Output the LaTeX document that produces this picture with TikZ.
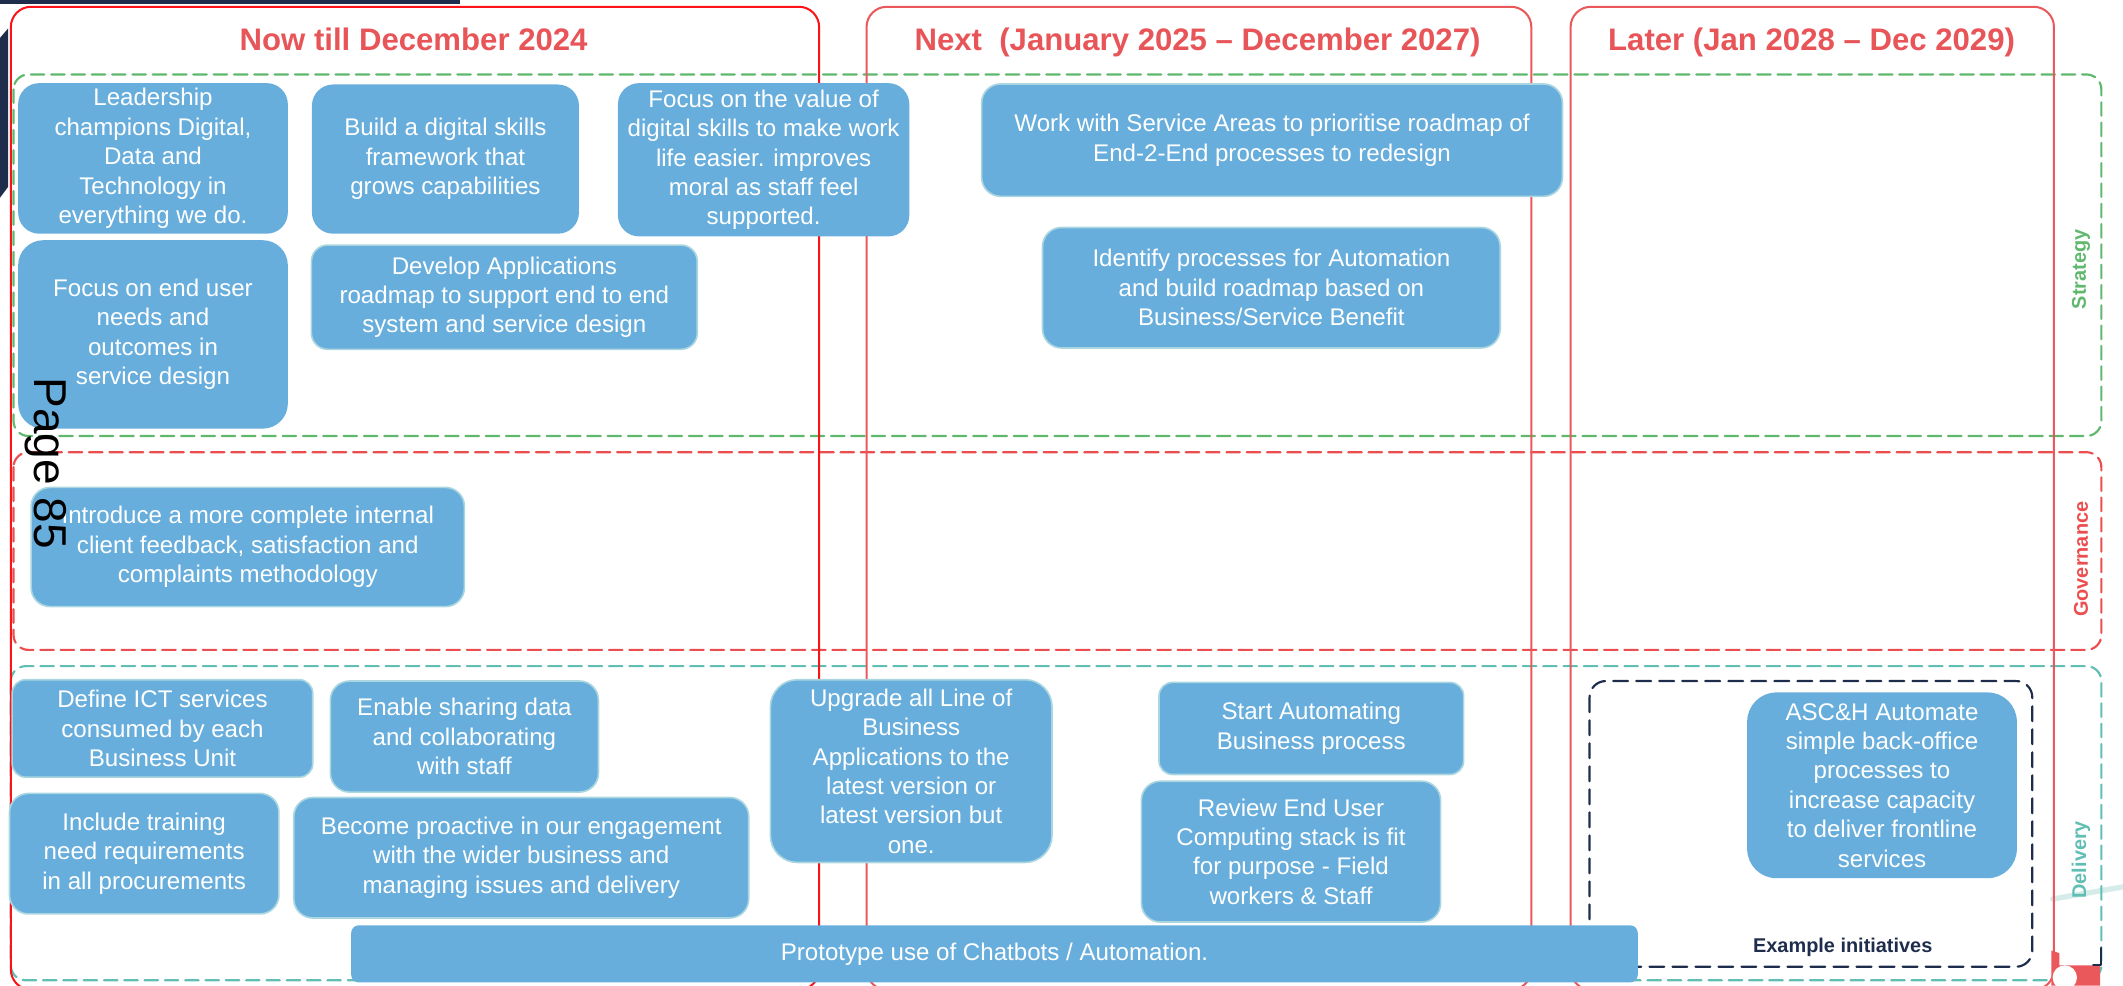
\documentclass[tikz,border=0pt]{standalone}
\usepackage{fontspec}
\setmainfont{Liberation Sans}
\definecolor{boxblue}{RGB}{104,174,220}
\definecolor{boxedge}{RGB}{170,214,224}
\definecolor{headred}{RGB}{232,85,88}
\definecolor{nowred}{RGB}{250,20,25}
\definecolor{colred}{RGB}{234,88,92}
\definecolor{stratgreen}{RGB}{96,184,110}
\definecolor{govred}{RGB}{236,78,80}
\definecolor{delteal}{RGB}{96,190,178}
\definecolor{navy}{RGB}{31,45,77}
\definecolor{paleteal}{RGB}{214,236,234}

\begin{document}
\begin{tikzpicture}[line cap=round,line join=round,x=1pt,y=-1pt,
	item/.style={draw=boxedge,line width=1.2pt,fill=boxblue,rounded corners=14pt,text=white,align=center,inner sep=0pt,font=\fontsize{17.8}{21.7}\selectfont},
	head/.style={text=headred,anchor=base,font=\fontsize{23}{27}\selectfont\bfseries},
	band/.style={dash pattern=on 10pt off 5pt,line width=1.6pt,rounded corners=11pt},
	side/.style={rotate=90,font=\fontsize{14.7}{17}\selectfont\bfseries},
	colframe/.style={line width=1.5pt,rounded corners=15pt}]
				\useasboundingbox (0,0) rectangle (1568,728);
				\clip (0,0) rectangle (1568,728);
				\fill [navy] (0,0) rectangle (340,3);
				\fill [navy] (0,28) -- (6,21) -- (6,138) -- (0,146) -- cycle;
				\draw [paleteal,line width=4pt] (1516,664) -- (1568,655);
				\draw [band,stratgreen] (10,55) rectangle (1552,322);
				\draw [band,govred] (10,334) rectangle (1552,480);
				\draw [band,delteal] (8,492) rectangle (1552,724);
				\draw [colframe,nowred] (8,5) rectangle (605,731);
				\draw [colframe,colred] (640,5) rectangle (1131,731);
				\draw [colframe,colred] (1160,5) rectangle (1517,731);
				\fill [colred] (1515,702) -- (1521,704) -- (1521,713) -- (1551,713) -- (1551,728) -- (1515,728) -- cycle;
				\fill [white] (1525,722) circle (9);
				\draw [navy,line width=1.5pt] (1552,700) -- (1552,713) -- (1546,713);
				\node [head] (nowhead) at (305.5,37) {Now till December 2024};
				\node [head] (nexthead) at (884.5,37) {Next\ \ (January 2025 -- December 2027)};
				\node [head] (laterhead) at (1338,37) {Later (Jan 2028 -- Dec 2029)};
				\node [side,stratgreen] (strategy) at (1537,199) {Strategy};
				\node [side,govred] (governance) at (1537,413) {Governance};
				\node [side,delteal] (delivery) at (1537,635) {Delivery};
				\draw [navy,line width=1.6pt,dash pattern=on 11pt off 6pt,rounded corners=12pt] (1174,503) rectangle (1501,714);
				\node [navy,font=\fontsize{14.7}{17}\selectfont\bfseries] (example) at (1361,700) {Example initiatives};
				\node [item,draw=boxblue,minimum width=198pt,minimum height=110pt,rounded corners=15pt] (leadership) at (113,117) {Leadership\\champions Digital,\\Data and\\Technology in\\everything we do.};
				\node [item,draw=boxblue,minimum width=196pt,minimum height=109pt,rounded corners=15pt] (skills) at (329,117.5) {Build a digital skills\\framework that\\grows capabilities};
				\node [item,draw=boxblue,minimum width=214pt,minimum height=112pt,rounded corners=15pt] (value) at (564,118) {Focus on the value of\\digital skills to make work\\life easier. improves\\moral as staff feel\\supported.};
				\node [item,draw=boxblue,minimum width=198pt,minimum height=138pt,rounded corners=18pt] (enduser) at (113,247) {Focus on end user\\needs and\\outcomes in\\service design};
				\node [item,minimum width=285pt,minimum height=77pt,rounded corners=12pt] (apps) at (372.5,219.5) {Develop Applications\\roadmap to support end to end\\system and service design};
				\node [item,minimum width=429pt,minimum height=83pt] (servareas) at (939.5,103.5) {Work with Service Areas to prioritise roadmap of\\End-2-End processes to redesign};
				\node [item,minimum width=338pt,minimum height=89pt] (identify) at (939,212.5) {Identify processes for Automation\\and build roadmap based on\\Business/Service Benefit};
				\node [item,minimum width=320pt,minimum height=88pt] (feedback) at (183,404) {Introduce a more complete internal\\client feedback, satisfaction and\\complaints methodology};
				\node [item,minimum width=222pt,minimum height=72pt,rounded corners=10pt] (ictserv) at (120,538) {Define ICT services\\consumed by each\\Business Unit};
				\node [item,minimum width=198pt,minimum height=82pt] (sharing) at (343,544) {Enable sharing data\\and collaborating\\with staff};
				\node [item,minimum width=199pt,minimum height=89pt] (training) at (106.5,630.5) {Include training\\need requirements\\in all procurements};
				\node [item,minimum width=336pt,minimum height=89pt] (proactive) at (385,633.5) {Become proactive in our engagement\\with the wider business and\\managing issues and delivery};
				\node [item,minimum width=208pt,minimum height=135pt,rounded corners=20pt] (upgrade) at (673,569.5) {Upgrade all Line of\\Business\\Applications to the\\latest version or\\latest version but\\one.};
				\node [item,minimum width=225pt,minimum height=68pt,rounded corners=10pt] (startauto) at (968.5,538) {Start Automating\\Business process};
				\node [item,minimum width=221pt,minimum height=104pt] (review) at (953.5,629) {Review End User\\Computing stack is fit\\for purpose - Field\\workers \& Staff};
				\node [item,draw=boxblue,minimum width=949pt,minimum height=41pt,rounded corners=5pt] (chatbots) at (734.5,704.5) {Prototype use of Chatbots / Automation.};
				\node [item,draw=boxblue,minimum width=198pt,minimum height=136pt,rounded corners=21pt] (asch) at (1390,580) {ASC\&H Automate\\simple back-office\\processes to\\increase capacity\\to deliver frontline\\services};
				\node [rotate=-90,font=\fontsize{34}{40}\selectfont] (page) at (34,342) {Page 85};
\end{tikzpicture}
\end{document}
